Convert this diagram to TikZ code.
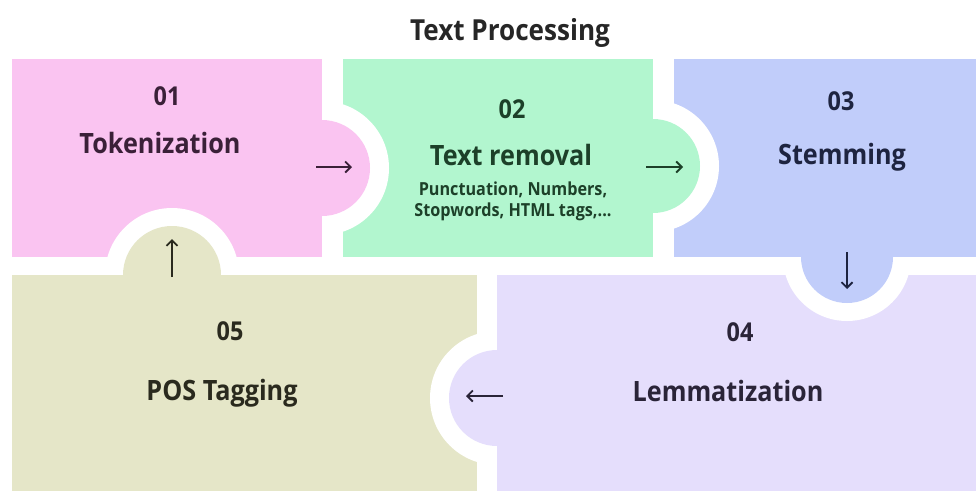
\documentclass[tikz,border=0pt]{standalone}
\usepackage{fontspec}
\setmainfont{Open Sans}[FakeStretch=0.9]
\usepackage{tikz}
\usetikzlibrary{arrows.meta}
\tikzset{>={Straight Barb[width=11pt,length=5.5pt,line width=1.8pt]}}

\definecolor{tokpink}{HTML}{FAC4F1}
\definecolor{remgreen}{HTML}{B2F6CF}
\definecolor{stemblue}{HTML}{C1CDFA}
\definecolor{lemlav}{HTML}{E5DEFC}
\definecolor{posolive}{HTML}{E5E6C8}
\definecolor{tokink}{HTML}{3A2038}
\definecolor{remink}{HTML}{1D4029}
\definecolor{stemink}{HTML}{1E2440}
\definecolor{lemink}{HTML}{2A2438}
\definecolor{posink}{HTML}{2A2A1E}

\tikzset{
  heading/.style={font=\fontsize{29}{33}\selectfont\bfseries, anchor=base, text=black!85},
  stepnum/.style={font=\fontsize{26}{30}\selectfont\bfseries, anchor=base},
  stepname/.style={font=\fontsize{28}{32}\selectfont\bfseries, anchor=base},
  stepnote/.style={font=\fontsize{18}{21}\selectfont\bfseries, anchor=base},
  flow/.style={->, line width=1.6pt},
}

\begin{document}
\begin{tikzpicture}[x=1pt, y=-1pt]
  \useasboundingbox (0,0) rectangle (976,491);

  % the five pieces
  \fill[tokpink] (12,59) rectangle (322,257);
  \fill[remgreen] (343,59) rectangle (653,257);
  \fill[stemblue] (674,59) rectangle (976,257);
  \fill[lemlav] (497,275) rectangle (976,491);
  \fill[posolive] (12,275) rectangle (477,491);

  % white notches cut into the neighbour of each tab
  \begin{scope}
    \clip (343,59) rectangle (653,257);
    \fill[white] (322,168) circle[radius=67pt];
  \end{scope}
  \begin{scope}
    \clip (674,59) rectangle (976,257);
    \fill[white] (653,166) circle[radius=66pt];
  \end{scope}
  \begin{scope}
    \clip (497,275) rectangle (976,491);
    \fill[white] (847,257) circle[radius=64pt];
  \end{scope}
  \begin{scope}
    \clip (12,275) rectangle (477,491);
    \fill[white] (497,398) circle[radius=67pt];
  \end{scope}
  \begin{scope}
    \clip (12,59) rectangle (322,257);
    \fill[white] (172,275) circle[radius=67pt];
  \end{scope}

  % tabs
  \fill[tokpink] (322,168) circle[radius=48pt];
  \fill[remgreen] (653,166) circle[radius=47pt];
  \fill[stemblue] (847,257) circle[radius=46pt];
  \fill[lemlav] (497,398) circle[radius=48pt];
  \fill[posolive] (172,275) circle[radius=49pt];

  % labels
  \node[heading] (TITLE) at (510,40) {Text Processing};

  \node[stepnum, text=tokink] (N1) at (167,105) {01};
  \node[stepname, text=tokink] (S1) at (160,153) {Tokenization};

  \node[stepnum, text=remink] (N2) at (512,118) {02};
  \node[stepname, text=remink] (S2) at (511,165) {Text removal};
  \node[stepnote, text=remink] (D2a) at (513,195) {Punctuation, Numbers,};
  \node[stepnote, text=remink] (D2b) at (513,216) {Stopwords, HTML tags,...};

  \node[stepnum, text=stemink] (N3) at (841,110) {03};
  \node[stepname, text=stemink] (S3) at (842,164) {Stemming};

  \node[stepnum, text=lemink] (N4) at (740,341) {04};
  \node[stepname, text=lemink] (S4) at (728,401) {Lemmatization};

  \node[stepnum, text=posink] (N5) at (230,340) {05};
  \node[stepname, text=posink] (S5) at (222,400) {POS Tagging};

  % arrows inside the tabs
  \coordinate (A1) at (316,167);
  \coordinate (B1) at (352,167);
  \coordinate (A2) at (646,167);
  \coordinate (B2) at (683,167);
  \coordinate (A3) at (847,252);
  \coordinate (B3) at (847,289);
  \coordinate (A4) at (503,396);
  \coordinate (B4) at (466,396);
  \coordinate (A5) at (172,277);
  \coordinate (B5) at (172,239);

  \draw[flow, tokink] (A1) -- (B1);
  \draw[flow, remink] (A2) -- (B2);
  \draw[flow, stemink] (A3) -- (B3);
  \draw[flow, lemink] (A4) -- (B4);
  \draw[flow, posink] (A5) -- (B5);
\end{tikzpicture}
\end{document}
